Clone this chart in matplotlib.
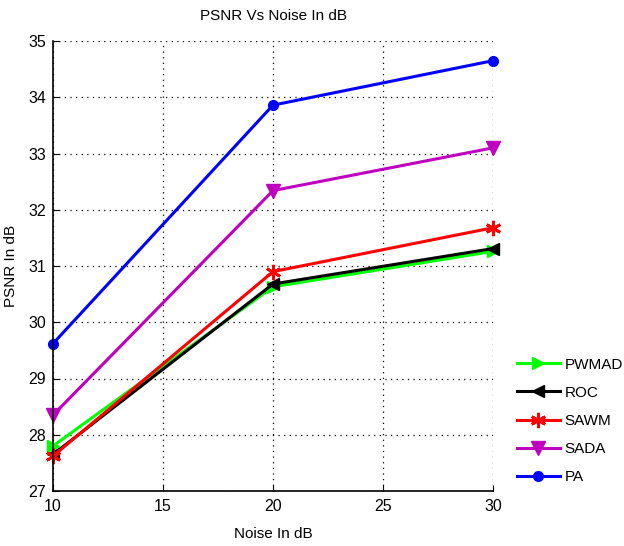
import matplotlib
matplotlib.use("Agg")
import matplotlib.pyplot as plt

noise_db = [10, 20, 30]
pwmad = [27.80, 30.63, 31.26]
roc = [27.65, 30.68, 31.31]
sawm = [27.62, 30.90, 31.68]
sada = [28.35, 32.34, 33.10]
pa = [29.62, 33.86, 34.65]

x_ticks = [10, 15, 20, 25, 30]
y_ticks = [27, 28, 29, 30, 31, 32, 33, 34, 35]

plt.rcParams["font.family"] = ["Liberation Sans", "DejaVu Sans"]

fig = plt.figure(figsize=(6.24, 5.46), dpi=100)
ax = fig.add_axes([53 / 624, 1 - 491 / 546, 440 / 624, 450 / 546])

series = [
    ("PWMAD", pwmad, "#00ff00", ">", 9, 1.0),
    ("ROC", roc, "black", "<", 9, 1.0),
    ("SAWM", sawm, "red", (6, 2, 0), 11, 2.0),
    ("SADA", sada, "#bf00bf", "v", 10, 1.0),
    ("PA", pa, "blue", "o", 7, 1.0),
]
for label, vals, color, marker, ms, mew in series:
    ax.plot(noise_db, vals, color=color, lw=2.2, marker=marker, ms=ms,
            mew=mew, mec=color, mfc=color, label=label, clip_on=False)

ax.set_xlim(10, 30)
ax.set_ylim(27, 35)
ax.set_xticks(x_ticks)
ax.set_yticks(y_ticks)
ax.tick_params(direction="in", length=4, width=0.8, labelsize=11.5)
ax.tick_params(axis="x", pad=6)
ax.tick_params(axis="y", pad=5)
for s in ("top", "right"):
    ax.spines[s].set_visible(False)
for s in ("left", "bottom"):
    ax.spines[s].set_linewidth(1.2)
ax.grid(True, color="black", linestyle=(0, (1, 3.5)), linewidth=0.9)
ax.set_axisbelow(True)

ax.set_title("PSNR Vs Noise In dB", fontsize=11, pad=15)
ax.set_xlabel("Noise In dB", fontsize=11, labelpad=9)
ax.set_ylabel("PSNR In dB", fontsize=11, labelpad=7)

leg = ax.legend(loc="lower left", bbox_to_anchor=(517 / 624, 1 - 484 / 546),
                bbox_transform=fig.transFigure, frameon=False, fontsize=11,
                handlelength=2.8, handletextpad=0.3, labelspacing=0.92,
                borderaxespad=0, borderpad=0)

fig.savefig("out.png", dpi=100, facecolor="white")
